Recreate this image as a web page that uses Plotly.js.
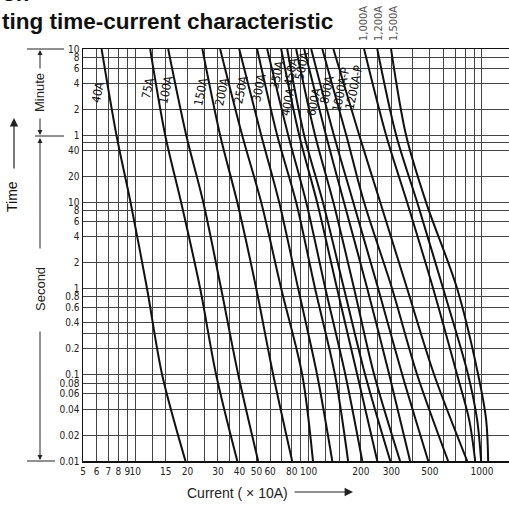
<!DOCTYPE html>
<html>
<head>
<meta charset="utf-8">
<script src="https://cdn.plot.ly/plotly-3.0.1.min.js"></script>
<style>
  html, body { margin: 0; padding: 0; background: #fff; overflow: hidden; }
  #chart { width: 509px; height: 505px; }
</style>
</head>
<body>
<div id="chart"></div>
<script>
// ---- data (current in x10A, time in seconds) ----
const times    = [600, 60, 10, 1, 0.1, 0.01];
const timesBig = [600, 60, 10, 1, 0.1, 0.03, 0.01];

const cur40A    = [6.4, 7.8, 9.4, 11.7, 14.3, 19.5];
const cur75A    = [12.2, 14.9, 18.4, 23.7, 29.3, 38.8];
const cur100A   = [15.5, 19.7, 24.7, 31.3, 39.3, 51.2];
const cur150A   = [24.4, 30.9, 38.8, 49.9, 62.5, 80.4];
const cur200A   = [30.9, 41.4, 53.3, 69.5, 91.9, 106];
const cur250A   = [39.8, 53.3, 67.7, 87.1, 112, 137];
const cur300A   = [50.5, 65.9, 84.8, 109, 142, 169];
const cur350A   = [57.7, 76.3, 96.9, 125, 163, 204];
const cur400A   = [69.5, 88.3, 112, 146, 191, 249];
const cur450A   = [75.3, 94.3, 121, 160, 212, 296];
const cur500A   = [84.8, 109, 139, 183, 239, 337];
const cur600A   = [94.3, 126, 160, 218, 292, 385];
const cur800A   = [103.5, 140, 181, 252, 347, 490];
const cur1000AP = [120, 165, 209, 303, 423, 638];
const cur1200AP = [139, 196, 259, 370, 530, 822];
const cur1000A  = [209, 280, 370, 523, 719, 844, 914];
const cur1200A  = [249, 320, 423, 597, 832, 938, 989];
const cur1500A  = [299, 365, 476, 719, 951, 1057, 1086];

const curveLabels = ['40A','75A','100A','150A','200A','250A','300A','350A','400A','450A','500A','600A','800A','1000A-P','1200A-P'];
const topLabels   = ['1,000A','1,200A','1,500A'];

const xTickVals = [5,6,7,8,9,10,12.5,15,20,25,30,35,40,50,60,70,80,90,100,125,150,200,250,300,400,500,600,700,800,900,1000];
const xTickText = ['5','6','7','8','9','10','','15','20','','30','','40','50','60','','80','','100','','','200','','300','','500','','','','','1000'];
const yTickVals = [600,480,360,240,120,60,50,40,20,10,8,6,4,2,1,0.8,0.6,0.4,0.3,0.2,0.1,0.08,0.06,0.04,0.02,0.01];
const yTickText = ['10','8','6','4','2','1','','40','20','10','8','6','4','2','1','0.8','0.6','0.4','','0.2','0.1','0.08','0.06','0.04','0.02','0.01'];

// ---- layout helpers (pixel -> paper) ----
const L = 83, R = 509, T = 49, B = 461;
const PX = p => (p - L) / (R - L);
const PY = p => (B - p) / (B - T);

const series = [
  [cur40A, times], [cur75A, times], [cur100A, times], [cur150A, times], [cur200A, times],
  [cur250A, times], [cur300A, times], [cur350A, times], [cur400A, times], [cur450A, times],
  [cur500A, times], [cur600A, times], [cur800A, times], [cur1000AP, times], [cur1200AP, times],
  [cur1000A, timesBig], [cur1200A, timesBig], [cur1500A, timesBig]
];

const traces = series.map(s => ({
  x: s[0], y: s[1], type: 'scatter', mode: 'lines',
  line: { color: '#111', width: 2, shape: 'spline', smoothing: 0.9 },
  hoverinfo: 'skip', showlegend: false
}));

const labelPos = [[98,92],[148,88],[166,90],[201,92],[222,92],[241,90],[259,88],[277,75],[288,102],[291,72],[302,66],[314,102],[327,90],[341,90],[354,88]];
const topPos = [364, 379, 394];

const condensed = '"DejaVu Sans Condensed", "DejaVu Sans", sans-serif';
const sans = '"Liberation Sans", Arial, sans-serif';

const annotations = [];
function txt(text, x, y, opts) {
  annotations.push(Object.assign({
    text: text, xref: 'paper', yref: 'paper', x: PX(x), y: PY(y),
    xanchor: 'center', yanchor: 'middle', showarrow: false
  }, opts));
}
curveLabels.forEach((t, i) => {
  txt(t, labelPos[i][0], labelPos[i][1], { textangle: -78, font: { family: condensed, size: 12, color: '#111' } });
});
topLabels.forEach((t, i) => {
  txt(t, topPos[i], 24, { textangle: -90, font: { family: condensed, size: 11, color: '#555' } });
});

// title (cropped in reference)
txt('<b>ting time-current characteristic</b>', 0, 21, { xanchor: 'left', font: { family: sans, size: 22.5, color: '#111' } });
txt('<b>or.</b>', 0, -7, { xanchor: 'left', font: { family: sans, size: 22.5, color: '#111' } });

// left brackets
function arrow(x, y, ax, ay, size, width) {
  annotations.push({
    text: '', xref: 'paper', yref: 'paper', x: PX(x), y: PY(y), ax: ax, ay: ay,
    showarrow: true, arrowhead: 2, arrowsize: size || 1, arrowwidth: width || 1, arrowcolor: '#222'
  });
}
arrow(40, 50, 0, 20);
arrow(40, 135, 0, -18);
arrow(40, 138, 0, 112);
arrow(40, 460, 0, -130);
txt('Minute', 40, 93, { textangle: -90, font: { family: sans, size: 13, color: '#222' } });
txt('Second', 40, 289, { textangle: -90, font: { family: sans, size: 13, color: '#222' } });
txt('Time', 12, 197, { textangle: -90, font: { family: sans, size: 14, color: '#111' } });
arrow(14, 118, 0, 52, 1.4, 1.2);
txt('Current ( \u00d7 10A)', 237, 493, { font: { family: sans, size: 14, color: '#222' } });
arrow(353, 492, -60, 0, 1.4, 1.2);

const shapes = [
  { type: 'line', xref: 'paper', yref: 'paper', x0: PX(27), x1: PX(64), y0: PY(49), y1: PY(49), line: { color: '#222', width: 1 } },
  { type: 'line', xref: 'paper', yref: 'paper', x0: PX(35), x1: PX(64), y0: PY(136), y1: PY(136), line: { color: '#222', width: 1 } },
  { type: 'line', xref: 'paper', yref: 'paper', x0: PX(27), x1: PX(55), y0: PY(461), y1: PY(461), line: { color: '#222', width: 1 } }
];

const layout = {
  width: 509, height: 505,
  margin: { l: L, r: 509 - R, t: T, b: 505 - B, pad: 0 },
  paper_bgcolor: '#fff', plot_bgcolor: '#fff',
  showlegend: false,
  xaxis: {
    type: 'log', range: [Math.log10(5), Math.log10(1432)],
    tickmode: 'array', tickvals: xTickVals, ticktext: xTickText, tickangle: 0,
    showgrid: true, gridcolor: '#444', gridwidth: 1,
    showline: true, linecolor: '#111', linewidth: 1.5, mirror: true,
    ticks: '', tickfont: { family: condensed, size: 10, color: '#222' },
    automargin: false, fixedrange: true
  },
  yaxis: {
    type: 'log', range: [-2, Math.log10(600)],
    tickmode: 'array', tickvals: yTickVals, ticktext: yTickText,
    showgrid: true, gridcolor: '#444', gridwidth: 1,
    showline: true, linecolor: '#111', linewidth: 1.5, mirror: false,
    ticks: '', tickfont: { family: condensed, size: 10, color: '#222' },
    automargin: false, fixedrange: true
  },
  annotations: annotations,
  shapes: shapes
};

Plotly.newPlot('chart', traces, layout, { staticPlot: true, displayModeBar: false });
</script>
</body>
</html>
